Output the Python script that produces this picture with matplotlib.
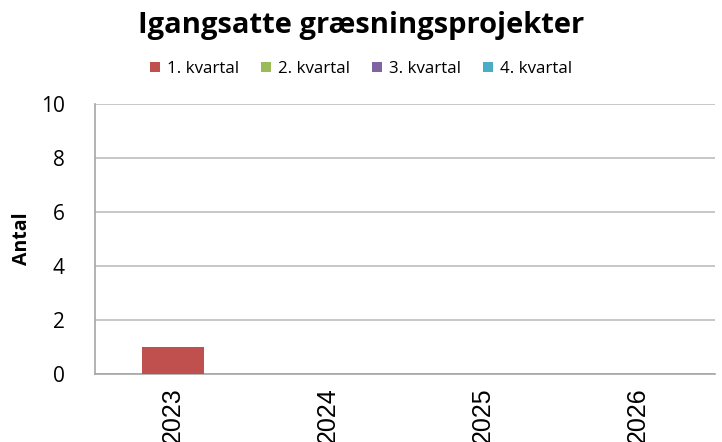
import matplotlib
matplotlib.use("Agg")
import matplotlib.pyplot as plt
import numpy as np

# data
years = ["2023", "2024", "2025", "2026"]
quarters = ["1. kvartal", "2. kvartal", "3. kvartal", "4. kvartal"]
q1 = [1, 0, 0, 0]
q2 = [0, 0, 0, 0]
q3 = [0, 0, 0, 0]
q4 = [0, 0, 0, 0]
colors = ["#C0504D", "#9BBB59", "#8064A2", "#4BACC6"]

plt.rcParams['font.family'] = ['Open Sans', 'DejaVu Sans']

fig = plt.figure(figsize=(7.22, 4.42), dpi=100)
ax = fig.add_axes([95/722, 1-373.5/442, 620/722, 270/442])

x = np.arange(len(years))
bottom = np.zeros(len(years))
for name, vals, c in zip(quarters, [q1, q2, q3, q4], colors):
    ax.bar(x, vals, width=0.4, bottom=bottom, color=c, label=name, zorder=3)
    bottom += np.array(vals)

ax.set_xlim(-0.5, 3.5)
ax.set_ylim(0, 10)
ax.set_yticks(range(0, 11, 2))
ax.yaxis.grid(True, color="#BEBEBE", linewidth=1.2, zorder=0)
ax.tick_params(axis="y", length=0, labelsize=15, pad=22)
ax.tick_params(axis="x", length=0, pad=10)
ax.set_xticks(x)
ax.set_xticklabels(years, rotation=90, fontsize=18, family="Liberation Sans", va="top")
for s in ["top", "right"]:
    ax.spines[s].set_visible(False)
for s in ["left", "bottom"]:
    ax.spines[s].set_color("#A6A6A6")
    ax.spines[s].set_linewidth(1.2)

ax.set_ylabel("Antal", fontsize=14, fontweight="bold", labelpad=6)

fig.text(0.5, 1-33/442, "Igangsatte græsningsprojekter", ha="center", va="baseline",
         fontsize=21, fontweight="bold")
fig.legend(loc="center", bbox_to_anchor=(0.5, 1-69/442), ncol=4, frameon=False,
           fontsize=12.2, handlelength=0.6, handleheight=0.6, handletextpad=0.4,
           columnspacing=1.3)

fig.savefig("out.png", dpi=100)
